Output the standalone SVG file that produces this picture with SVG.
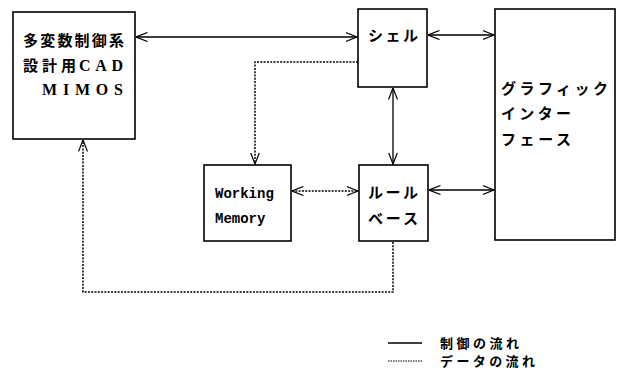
<svg xmlns="http://www.w3.org/2000/svg" width="617" height="376" viewBox="0 0 617 376">
<style>
.box{fill:#fff;stroke:#000;stroke-width:1.6}
.jp{font-family:"Noto Sans CJK JP","Noto Sans",sans-serif;font-weight:bold;font-size:15px;fill:#000}
.serif{font-family:"Liberation Serif","DejaVu Serif",serif;font-weight:bold;font-size:16px;fill:#000}
.mono{font-family:"Liberation Mono","DejaVu Sans Mono",monospace;font-weight:bold;font-size:14px;fill:#000}
.lg{font-family:"Noto Sans CJK JP","Noto Sans",sans-serif;font-weight:bold;font-size:13px;fill:#000}
.solid{fill:none;stroke:#000;stroke-width:1.3}
.dot{fill:none;stroke:#000;stroke-width:1.5;stroke-dasharray:2 1.3}
</style>
<defs>
<marker id="ah" viewBox="0 0 12 10" refX="11.5" refY="5" markerWidth="12" markerHeight="10" markerUnits="userSpaceOnUse" orient="auto-start-reverse">
<path d="M0,0.5 L11.5,5 L0,9.5" fill="none" stroke="#000" stroke-width="1.2"/>
</marker>
</defs>
<rect width="617" height="376" fill="#fff"/>
<g id="connectors">
<line class="solid" x1="136" y1="37" x2="357" y2="37" marker-start="url(#ah)" marker-end="url(#ah)"/>
<line class="solid" x1="428" y1="35" x2="494" y2="35" marker-start="url(#ah)" marker-end="url(#ah)"/>
<line class="solid" x1="393" y1="88" x2="393" y2="164" marker-start="url(#ah)" marker-end="url(#ah)"/>
<line class="solid" x1="429" y1="190" x2="494" y2="190" marker-start="url(#ah)" marker-end="url(#ah)"/>
<polyline class="dot" points="358,62 255,62 255,164" marker-end="url(#ah)"/>
<line class="dot" x1="292" y1="191" x2="358" y2="191" marker-start="url(#ah)" marker-end="url(#ah)"/>
<polyline class="dot" points="393,242 393,292 83,292 83,140" marker-end="url(#ah)"/>
</g>
<g id="cad">
<rect class="box" x="13" y="12" width="122" height="127"/>
<text class="jp" x="23" y="46" textLength="101" lengthAdjust="spacing">多変数制御系</text>
<text class="jp" x="23" y="71" textLength="53" lengthAdjust="spacing">設計用</text>
<text class="serif" x="79" y="71" textLength="44" lengthAdjust="spacing">CAD</text>
<text class="serif" x="42" y="95" textLength="81" lengthAdjust="spacing">MIMOS</text>
</g>
<g id="shell">
<rect class="box" x="358" y="9" width="69" height="78"/>
<text class="jp" x="368" y="41" textLength="50" lengthAdjust="spacing">シェル</text>
</g>
<g id="gui">
<rect class="box" x="495" y="9" width="120" height="231"/>
<text class="jp" x="501" y="94" textLength="107" lengthAdjust="spacing">グラフィック</text>
<text class="jp" x="501" y="119" textLength="70" lengthAdjust="spacing">インター</text>
<text class="jp" x="501" y="145" textLength="70" lengthAdjust="spacing">フェース</text>
</g>
<g id="wm">
<rect class="box" x="204" y="165" width="87" height="76"/>
<text class="mono" x="215" y="198">Working</text>
<text class="mono" x="215" y="223">Memory</text>
</g>
<g id="rulebase">
<rect class="box" x="359" y="165" width="69" height="76"/>
<text class="jp" x="368" y="198" textLength="50" lengthAdjust="spacing">ルール</text>
<text class="jp" x="368" y="224" textLength="50" lengthAdjust="spacing">ベース</text>
</g>
<g id="legend">
<line x1="388" y1="343" x2="422" y2="343" stroke="#000" stroke-width="1.3"/>
<line x1="388" y1="361" x2="422" y2="361" stroke="#000" stroke-width="1.2" stroke-dasharray="1.5 1"/>
<text class="lg" x="440" y="348" textLength="79" lengthAdjust="spacing">制御の流れ</text>
<text class="lg" x="440" y="366" textLength="95" lengthAdjust="spacing">データの流れ</text>
</g>
</svg>
